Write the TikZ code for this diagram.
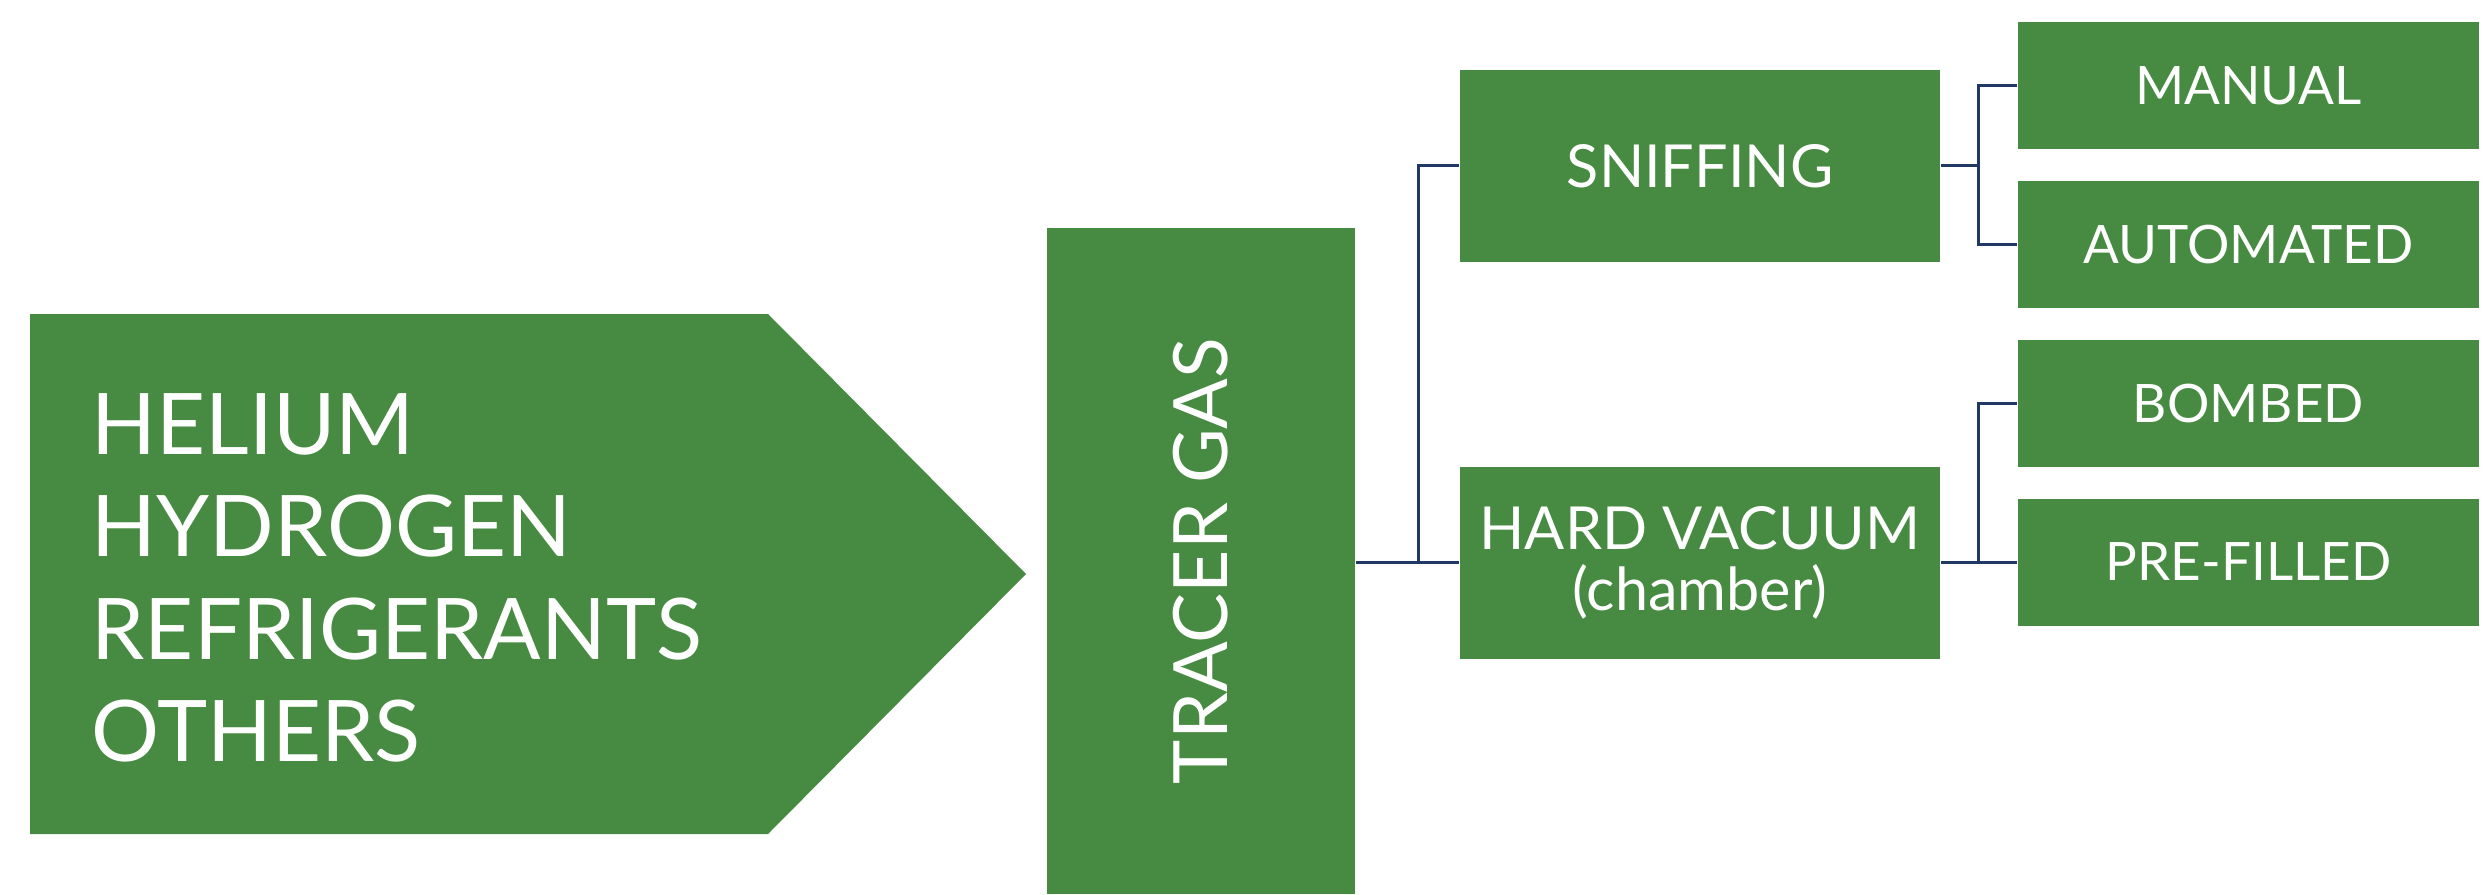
\documentclass[tikz,border=0pt]{standalone}
\usepackage{fontspec}
\setmainfont{Lato}
\usetikzlibrary{calc}
\definecolor{gbox}{HTML}{478A41}
\definecolor{navy}{HTML}{1F3864}
\begin{document}
\begin{tikzpicture}[x=0.3pt,y=-0.3pt,
 box/.style={fill=gbox, text=white, inner sep=0pt, align=center},
 midbox/.style={box, minimum width=144pt, minimum height=57.6pt, font=\fontsize{17.8}{18.3}\selectfont},
 smallbox/.style={box, minimum width=138.3pt, minimum height=38.1pt, font=\fontsize{15.9}{19}\selectfont},
 conn/.style={draw=navy, line width=0.9pt},
 big/.style={font=\fontsize{25.5}{30.6}\selectfont, text=white, inner sep=0pt, anchor=base west}]
\useasboundingbox (0,0) rectangle (2484,894);
% arrow
\fill[gbox] (30,314) -- (768,314) -- (1026,574) -- (768,834) -- (30,834) -- cycle;
\node[big] (he) at (91,454) {HELIUM};
\node[big] (hy) at (91,556) {HYDROGEN};
\node[big] (re) at (91,659) {REFRIGERANTS};
\node[big] (ot) at (91,761) {OTHERS};
% tracer
\node[box, rotate=90, minimum width=199.8pt, minimum height=92.4pt, font=\fontsize{22.5}{27}\selectfont] (tracer) at (1201,561) {TRACER GAS};
% middle
\node[midbox] (sniff) at (1700,166) {SNIFFING};
\node[midbox] (hv) at (1700,563) {HARD VACUUM\\(chamber)};
% right
\node[smallbox] (manual) at (2248.5,85.5) {MANUAL};
\node[smallbox] (auto) at (2248.5,244.5) {AUTOMATED};
\node[smallbox] (bombed) at (2248.5,403) {BOMBED};
\node[smallbox] (pre) at (2248.5,562) {PRE-FILLED};
% junctions
\coordinate (j1) at (1418,562);
\coordinate (j2) at (1978,166);
\coordinate (j3) at (1978,562);
% connectors
\draw[conn] (tracer.south |- j1) -- (hv.west |- j1);
\draw[conn] (sniff.west) -| (j1);
\draw[conn] (sniff.east) -- (j2);
\draw[conn] (manual.west) -| (j2) |- (auto.west);
\draw[conn] (hv.east |- j3) -- (pre.west |- j3);
\draw[conn] (bombed.west) -| (j3);
\end{tikzpicture}
\end{document}
